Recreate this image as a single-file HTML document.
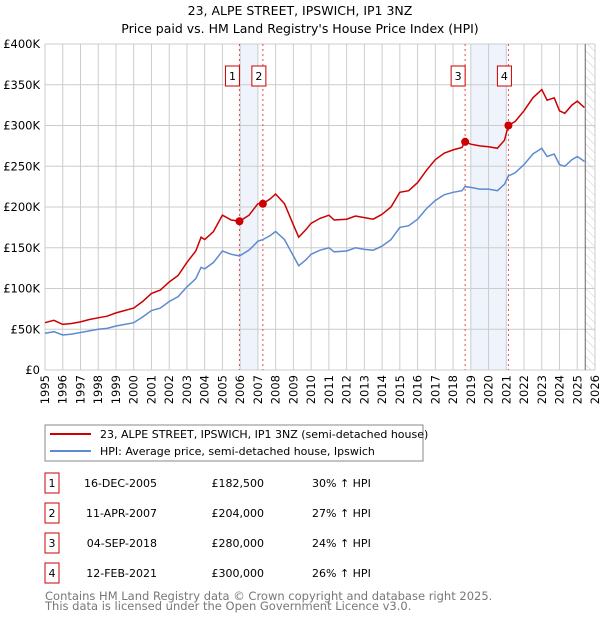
<!DOCTYPE html>
<html><head><meta charset="utf-8"><style>
body{margin:0;background:#fff;font-family:"DejaVu Sans","Liberation Sans",sans-serif;}
svg text{font-family:"DejaVu Sans","Liberation Sans",sans-serif;}
</style></head><body>
<svg id="chart" width="600" height="620" viewBox="0 0 600 620" xmlns="http://www.w3.org/2000/svg">
<defs><pattern id="hatch" width="6" height="6" patternUnits="userSpaceOnUse" patternTransform="rotate(-45)"><line x1="0" y1="0" x2="0" y2="6" stroke="#ccc" stroke-width="1"/></pattern></defs>
<text x="300" y="15" text-anchor="middle" font-size="12.5">23, ALPE STREET, IPSWICH, IP1 3NZ</text>
<text x="300" y="33" text-anchor="middle" font-size="12.5">Price paid vs. HM Land Registry's House Price Index (HPI)</text>
<g id="grid"></g>
<g id="marks"></g>
<g id="legend">
<rect x="45" y="425" width="378" height="36" fill="#fff" stroke="#888"/>
<line x1="50" y1="434" x2="91" y2="434" stroke="#cc0000" stroke-width="2"/>
<text x="100" y="438" font-size="11">23, ALPE STREET, IPSWICH, IP1 3NZ (semi-detached house)</text>
<line x1="50" y1="451" x2="91" y2="451" stroke="#5b8bd0" stroke-width="2"/>
<text x="100" y="455" font-size="11">HPI: Average price, semi-detached house, Ipswich</text>
</g>
<g id="table"></g>
<text x="45" y="600" font-size="11.5" fill="#777">Contains HM Land Registry data © Crown copyright and database right 2025.</text>
<text x="45" y="610" font-size="11.5" fill="#777">This data is licensed under the Open Government Licence v3.0.</text>
</svg>
<script>
const years=[1995,1995.5,1996,1996.5,1997,1997.5,1998,1998.5,1999,1999.5,2000,2000.5,2001,2001.5,2002,2002.5,2003,2003.5,2003.8,2004,2004.5,2005,2005.5,2005.96,2006.5,2007,2007.28,2007.7,2008,2008.5,2009,2009.3,2009.7,2010,2010.5,2011,2011.3,2012,2012.5,2013,2013.5,2014,2014.5,2015,2015.5,2016,2016.5,2017,2017.5,2018,2018.5,2018.68,2019,2019.5,2020,2020.5,2020.9,2021.12,2021.5,2022,2022.5,2023,2023.3,2023.7,2024,2024.3,2024.7,2025,2025.4];
const hpiValues=[45,47,43,44,46,48,50,51,54,56,58,65,73,76,84,90,102,112,126,124,132,146,142,140,147,158,160,165,170,160,140,128,135,142,147,150,145,146,150,148,147,152,160,175,177,185,198,208,215,218,220,225,224,222,222,220,228,238,242,252,265,272,262,265,252,250,258,262,256];
const priceValues=[58,61,56,57,59,62,64,66,70,73,76,84,94,98,108,116,132,146,163,160,170,190,184,182.5,190,204,204,210,216,204,178,163,172,180,186,190,184,185,189,187,185,191,200,218,220,230,245,258,266,270,273,280,277,275,274,272,282,300,305,318,334,344,331,334,318,315,325,330,322];
const saleLabels=["1","2","3","4"];
const saleDates=[2005.96,2007.28,2018.68,2021.12];
const salePrices=[182.5,204,280,300];
const saleDateText=["16-DEC-2005","11-APR-2007","04-SEP-2018","12-FEB-2021"];
const salePriceText=["£182,500","£204,000","£280,000","£300,000"];
const saleHpiText=["30% ↑ HPI","27% ↑ HPI","24% ↑ HPI","26% ↑ HPI"];
const shadeRanges=[[2006,2007],[2019,2021]];
const yTicks=[0,50,100,150,200,250,300,350,400];
const yTickLabels=["£0","£50K","£100K","£150K","£200K","£250K","£300K","£350K","£400K"];
const xStart=1995,xEnd=2026,forecastStart=2025.45;

const NS="http://www.w3.org/2000/svg";
const L=45,R=595,T=44,B=370;
const xs=v=>L+(v-xStart)/(xEnd-xStart)*(R-L);
const ys=v=>B-v/400*(B-T);
function mk(tag,attrs,parent){const e=document.createElementNS(NS,tag);for(const k in attrs)e.setAttribute(k,attrs[k]);parent.appendChild(e);return e;}
const grid=document.getElementById('grid'),marks=document.getElementById('marks'),table=document.getElementById('table');
shadeRanges.forEach(r=>{const e=mk('rect',{x:xs(r[0]),y:T,width:xs(r[1])-xs(r[0]),height:B-T,fill:'#eef3fc'},grid);

});
const h=mk('rect',{x:xs(forecastStart),y:T,width:R-xs(forecastStart),height:B-T,fill:'url(#hatch)'},grid);


for(let y=xStart;y<=xEnd;y++){const x=xs(y);
const g=mk('line',{x1:x,y1:T,x2:x,y2:B,stroke:'#ccc','stroke-width':1},grid);


const t=mk('text',{x:0,y:0,'font-size':11.5,'text-anchor':'end',transform:`translate(${x+4},${B+5}) rotate(-90)`},grid);
t.textContent=y;

}
yTicks.forEach((v,i)=>{const y=ys(v);
const g=mk('line',{x1:L,y1:y,x2:R,y2:y,stroke:'#ccc','stroke-width':1},grid);


const t=mk('text',{x:L-5,y:y+4,'font-size':11.5,'text-anchor':'end'},grid);
t.textContent=yTickLabels[i];

});
const fl=mk('line',{x1:xs(forecastStart),y1:T,x2:xs(forecastStart),y2:B,stroke:'#666','stroke-width':1},grid);


saleDates.forEach((d,i)=>{const x=xs(d);
const l=mk('line',{x1:x,y1:T,x2:x,y2:B,stroke:'#e05050','stroke-width':1,'stroke-dasharray':'2,3'},marks);


const bx=x-(i%2===0?7:-7)*0+ (i===0||i===2?-8:-5);
const r=mk('rect',{x:bx-6,y:66,width:14,height:20,fill:'#fff',stroke:'#cc0000'},marks);


const t=mk('text',{x:bx+1,y:80,'font-size':11,'text-anchor':'middle'},marks);
t.textContent=saleLabels[i];

});
const pathOf=arr=>arr.map((v,i)=>(i?'L':'M')+xs(years[i]).toFixed(1)+','+ys(v).toFixed(1)).join('');
const hp=mk('path',{d:pathOf(hpiValues),fill:'none',stroke:'#5b8bd0','stroke-width':1.5},marks);


const pp=mk('path',{d:pathOf(priceValues),fill:'none',stroke:'#cc0000','stroke-width':1.5},marks);


saleDates.forEach((d,i)=>{const c=mk('circle',{cx:xs(d),cy:ys(salePrices[i]),r:4,fill:'#cc0000'},marks);

});
saleLabels.forEach((s,i)=>{const cy=483+i*30;
const r=mk('rect',{x:45,y:cy-10,width:14,height:20,fill:'#fff',stroke:'#cc0000'},table);


const cells=[[52,'middle',s],[157,'end',saleDateText[i]],[264,'end',salePriceText[i]],[312,'start',saleHpiText[i]]];
cells.forEach(c=>{const t=mk('text',{x:c[0],y:cy+4,'font-size':11,'text-anchor':c[1]},table);
t.textContent=c[2];

});});
</script>
</body></html>
